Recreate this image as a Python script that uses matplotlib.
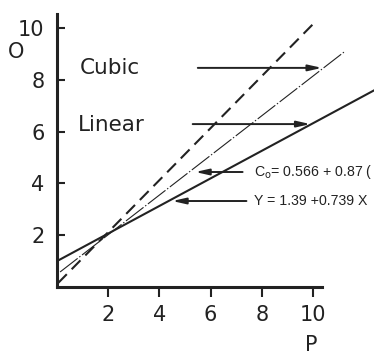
import matplotlib
matplotlib.use("Agg")
import matplotlib.pyplot as plt

# line end points (P, value)
solid_p = [0.0, 12.4]
solid_v = [1.0, 7.6]
dashdot_p = [0.12, 11.25]
dashdot_v = [0.58, 9.1]
dashed_p = [0.04, 10.08]
dashed_v = [0.15, 10.23]

# annotation arrows: (y, start P, end P)
arrow_cubic = (8.46, 5.5, 10.35)
arrow_linear = (6.29, 5.3, 9.9)
arrow_co = (4.44, 7.25, 5.4)
arrow_y = (3.32, 7.4, 4.5)

xticks = [2, 4, 6, 8, 10]
yticks = [2, 4, 6, 8, 10]

ink = "#222222"

plt.rcParams["font.family"] = "DejaVu Sans"
plt.rcParams["lines.scale_dashes"] = False

fig = plt.figure(figsize=(3.74, 3.58), dpi=100)
ax = fig.add_axes([57 / 374, 71 / 358, 317 / 374, 287 / 358])
ax.set_xlim(0, 317 / 25.6)
ax.set_ylim(0, 287 / 25.9)

ax.plot(solid_p, solid_v, color=ink, lw=1.5, solid_capstyle="butt")
ax.plot(dashdot_p, dashdot_v, color=ink, lw=0.8, linestyle=(0, (16, 1.5, 1, 1.5)))
ax.plot(dashed_p, dashed_v, color=ink, lw=1.5, dashes=(9, 5))

for y, x0, x1 in [arrow_cubic, arrow_linear, arrow_co, arrow_y]:
    ax.annotate("", xy=(x1, y), xytext=(x0, y),
                arrowprops=dict(arrowstyle="-|>,head_length=0.8,head_width=0.18",
                                color=ink, lw=1.4, shrinkA=0, shrinkB=0))

ax.text(0.9, 8.46, "Cubic", fontsize=15.5, color=ink, va="center")
ax.text(0.82, 6.27, "Linear", fontsize=15.5, color=ink, va="center")
ax.text(7.7, 4.44, r"C$_\mathrm{o}$= 0.566 + 0.87 (", fontsize=10.2,
        family="Liberation Sans", color=ink, va="center")
ax.text(7.7, 3.32, "Y = 1.39 +0.739 X", fontsize=10.2,
        family="Liberation Sans", color=ink, va="center")

for s in ["top", "right"]:
    ax.spines[s].set_visible(False)
ax.spines["left"].set_bounds(0, 10.55)
ax.spines["bottom"].set_bounds(0, 10.35)
for s in ["left", "bottom"]:
    ax.spines[s].set_linewidth(2.2)
    ax.spines[s].set_color(ink)

ax.set_xticks(xticks)
ax.set_yticks(yticks)
ax.set_xticklabels([str(t) for t in xticks])
ax.set_yticklabels([str(t) for t in yticks])
ax.tick_params(axis="x", direction="out", length=7, width=1.5, color=ink,
               labelsize=15, labelcolor=ink, pad=6)
ax.tick_params(axis="y", direction="in", length=6, width=1.5, color=ink,
               labelsize=15, labelcolor=ink, pad=9)

fig.text(16 / 374, 1 - 52 / 358, "O", fontsize=15, color=ink, ha="center", va="center")
fig.text(311 / 374, 1 - 345 / 358, "P", fontsize=15, color=ink, ha="center", va="center")

fig.savefig("out.png", dpi=100, facecolor="white")
